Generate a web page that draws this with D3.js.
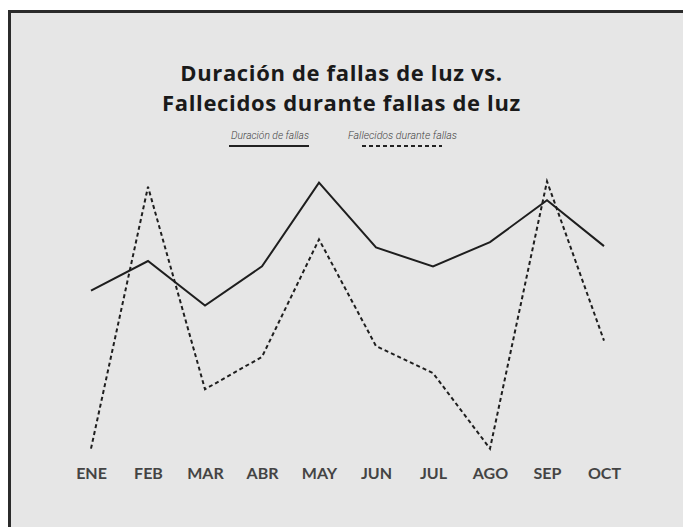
<!DOCTYPE html>
<html><head><meta charset="utf-8">
<script src="https://cdn.jsdelivr.net/npm/d3@7"></script>
<style>body{margin:0;background:#fff;overflow:hidden}svg{display:block}</style>
</head><body><svg id="c" width="683" height="527"></svg>
<script>
const months = ["ENE","FEB","MAR","ABR","MAY","JUN","JUL","AGO","SEP","OCT"];
const duracion = [59, 70, 53.5, 68, 99, 75, 68, 77, 92.5, 75.5];
const fallecidos = [0.5, 97.5, 22.5, 34.5, 78, 38.5, 28.5, 0.5, 99.5, 40.5];
const titleLines = ["Duración de fallas de luz vs.", "Fallecidos durante fallas de luz"];
const legendLabels = ["Duración de fallas", "Fallecidos durante fallas"];

const svg = d3.select("#c");
svg.append("rect").attr("x",9.5).attr("y",11.5).attr("width",700).attr("height",600)
  .attr("fill","#e6e6e6").attr("stroke","#2b2b2b").attr("stroke-width",3);

const x = d3.scalePoint().domain(months).range([91,604]);
const y = d3.scaleLinear().domain([0,100]).range([450,180]);

svg.selectAll("text.title").data(titleLines).join("text").attr("class","title")
  .attr("x",341.5).attr("y",(d,i)=>80.5+i*30.2).attr("text-anchor","middle")
  .attr("font-family","Open Sans").attr("font-weight",700).attr("font-size",22)
  .attr("letter-spacing",0.65).attr("fill","#1a1a1a").text(d=>d);

// legend
const leg = [{x1:229,x2:309,tx:231,tw:78,dash:null},{x1:362,x2:442,tx:348,tw:109,dash:"4,3"}];
leg.forEach((l,i)=>{
  svg.append("text").attr("x",l.tx).attr("y",139).attr("font-family","Roboto")
    .attr("font-style","italic").attr("font-weight",300).attr("font-size",11.5).attr("fill","#444")
    .attr("textLength",l.tw).attr("lengthAdjust","spacingAndGlyphs").text(legendLabels[i]);
  svg.append("line").attr("x1",l.x1).attr("x2",l.x2).attr("y1",146).attr("y2",146)
    .attr("stroke","#222").attr("stroke-width",2).attr("stroke-dasharray",l.dash);
});

const line = d3.line().x((d,i)=>x(months[i])).y(d=>y(d));
svg.append("path").datum(duracion).attr("d",line).attr("fill","none")
  .attr("stroke","#1e1e1e").attr("stroke-width",2);
svg.append("path").datum(fallecidos).attr("d",line).attr("fill","none")
  .attr("stroke","#1e1e1e").attr("stroke-width",2).attr("stroke-dasharray","4,3");

const ax = svg.append("g").attr("transform","translate(0,463)")
  .call(d3.axisBottom(x).tickSize(0).tickPadding(0));
ax.select(".domain").remove();
ax.selectAll("text").attr("font-family","Lato").attr("font-weight",700)
  .attr("font-size",16).attr("fill","#444").attr("dy","1em");
</script></body></html>
